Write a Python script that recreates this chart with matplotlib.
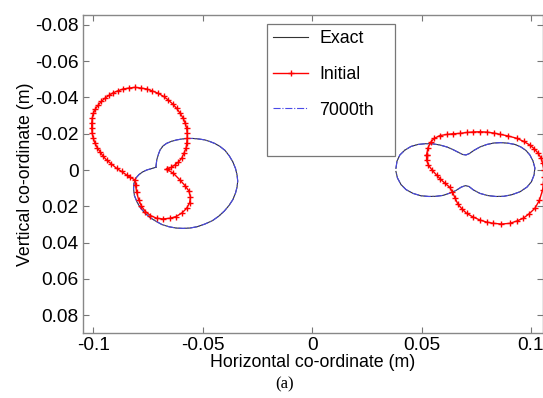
import numpy as np
import matplotlib.pyplot as plt
from matplotlib.patches import Rectangle

plt.rcParams.update({
    'font.family': 'Liberation Sans',
    'font.size': 12.8,
    'axes.unicode_minus': False
})

# exact / converged trajectory, left body
left_exact_x = [-0.0714, -0.0710, -0.0702, -0.0695, -0.0682, -0.0665, -0.0643, -0.0619, -0.0595, -0.0572,
                -0.0544, -0.0517, -0.0490, -0.0467, -0.0444, -0.0421, -0.0398, -0.0378, -0.0362, -0.0350,
                -0.0343, -0.0340, -0.0343, -0.0350, -0.0362, -0.0380, -0.0401, -0.0426, -0.0455, -0.0490,
                -0.0526, -0.0558, -0.0590, -0.0622, -0.0654, -0.0686, -0.0716, -0.0741, -0.0764, -0.0784,
                -0.0800, -0.0812, -0.0816, -0.0814, -0.0805, -0.0791, -0.0775, -0.0756, -0.0733, -0.0714]
left_exact_y = [-0.0015, -0.0055, -0.0088, -0.0110, -0.0132, -0.0147, -0.0158, -0.0166, -0.0171, -0.0174,
                -0.0174, -0.0171, -0.0166, -0.0157, -0.0146, -0.0130, -0.0108, -0.0077, -0.0044, -0.0008,
                0.0028, 0.0061, 0.0094, 0.0127, 0.0163, 0.0196, 0.0226, 0.0254, 0.0279, 0.0298,
                0.0313, 0.0320, 0.0322, 0.0320, 0.0313, 0.0301, 0.0281, 0.0262, 0.0237, 0.0210,
                0.0177, 0.0141, 0.0105, 0.0072, 0.0044, 0.0025, 0.0011, 0.0000, -0.0008, -0.0015]

# exact / converged trajectory, right body
right_exact_x = [0.0383, 0.0388, 0.0401, 0.0424, 0.0452, 0.0484, 0.0516, 0.0548, 0.0584, 0.0616,
                 0.0643, 0.0669, 0.0687, 0.0703, 0.0719, 0.0739, 0.0767, 0.0799, 0.0831, 0.0863,
                 0.0895, 0.0927, 0.0954, 0.0977, 0.0995, 0.1009, 0.1018, 0.1014, 0.1002, 0.0982,
                 0.0950, 0.0913, 0.0876, 0.0840, 0.0803, 0.0767, 0.0737, 0.0717, 0.0701, 0.0682,
                 0.0657, 0.0630, 0.0598, 0.0566, 0.0534, 0.0497, 0.0461, 0.0429, 0.0406, 0.0390, 0.0383]
right_exact_y = [-0.0009, -0.0050, -0.0083, -0.0110, -0.0130, -0.0141, -0.0145, -0.0145, -0.0138, -0.0127,
                 -0.0113, -0.0097, -0.0086, -0.0083, -0.0091, -0.0108, -0.0127, -0.0141, -0.0149, -0.0151,
                 -0.0148, -0.0141, -0.0127, -0.0108, -0.0083, -0.0050, -0.0011, 0.0028, 0.0065, 0.0094,
                 0.0120, 0.0136, 0.0145, 0.0146, 0.0141, 0.0129, 0.0110, 0.0091, 0.0086, 0.0094,
                 0.0113, 0.0127, 0.0140, 0.0145, 0.0146, 0.0142, 0.0129, 0.0108, 0.0080, 0.0044, 0.0008]

# initial guess, left body
left_init_x = [-0.0665, -0.0634, -0.0604, -0.0581, -0.0563, -0.0556, -0.0560, -0.0574, -0.0595, -0.0622,
               -0.0650, -0.0682, -0.0710, -0.0739, -0.0762, -0.0780, -0.0793, -0.0802, -0.0807, -0.0809,
               -0.0830, -0.0847, -0.0871, -0.0893, -0.0917, -0.0939, -0.0956, -0.0969, -0.0982, -0.0992,
               -0.1000, -0.1005, -0.1007, -0.1007, -0.1005, -0.1000, -0.0990, -0.0977, -0.0963, -0.0947,
               -0.0928, -0.0909, -0.0887, -0.0863, -0.0837, -0.0809, -0.0782, -0.0756, -0.0730, -0.0703,
               -0.0679, -0.0657, -0.0637, -0.0619, -0.0603, -0.0589, -0.0580, -0.0573, -0.0571, -0.0571,
               -0.0573, -0.0576, -0.0586, -0.0596, -0.0611, -0.0627, -0.0645, -0.0665]
left_init_y = [-0.0004, 0.0018, 0.0055, 0.0086, 0.0116, 0.0149, 0.0182, 0.0212, 0.0237, 0.0257,
               0.0266, 0.0270, 0.0266, 0.0251, 0.0229, 0.0199, 0.0163, 0.0121, 0.0083, 0.0055,
               0.0041, 0.0028, 0.0008, -0.0009, -0.0033, -0.0055, -0.0077, -0.0101, -0.0124, -0.0147,
               -0.0175, -0.0202, -0.0230, -0.0258, -0.0285, -0.0313, -0.0337, -0.0359, -0.0378, -0.0396,
               -0.0412, -0.0426, -0.0437, -0.0447, -0.0452, -0.0456, -0.0452, -0.0447, -0.0436, -0.0423,
               -0.0406, -0.0386, -0.0364, -0.0340, -0.0313, -0.0285, -0.0258, -0.0230, -0.0202, -0.0175,
               -0.0147, -0.0120, -0.0092, -0.0065, -0.0044, -0.0028, -0.0014, -0.0004]

# initial guess, right body
right_init_x = [0.0523, 0.0529, 0.0541, 0.0557, 0.0584, 0.0615, 0.0643, 0.0675, 0.0707, 0.0737,
                0.0767, 0.0799, 0.0829, 0.0858, 0.0895, 0.0935, 0.0966, 0.0995, 0.1016, 0.1033,
                0.1046, 0.1053, 0.1059, 0.1059, 0.1057, 0.1053, 0.1039, 0.1018, 0.0993, 0.0965,
                0.0936, 0.0904, 0.0865, 0.0828, 0.0797, 0.0767, 0.0735, 0.0706, 0.0685, 0.0666,
                0.0653, 0.0641, 0.0628, 0.0607, 0.0586, 0.0569, 0.0548, 0.0531, 0.0523, 0.0523]
right_init_y = [-0.0083, -0.0121, -0.0152, -0.0174, -0.0190, -0.0196, -0.0200, -0.0202, -0.0207, -0.0210,
                -0.0211, -0.0209, -0.0204, -0.0197, -0.0188, -0.0175, -0.0158, -0.0138, -0.0116, -0.0092,
                -0.0066, -0.0039, 0.0000, 0.0039, 0.0077, 0.0110, 0.0166, 0.0211, 0.0240, 0.0266,
                0.0281, 0.0294, 0.0298, 0.0294, 0.0287, 0.0276, 0.0259, 0.0239, 0.0215, 0.0188,
                0.0154, 0.0121, 0.0094, 0.0073, 0.0050, 0.0028, 0.0000, -0.0028, -0.0055, -0.0083]

series_labels = ['Exact', 'Initial', '7000th']
x_ticks = [-0.1, -0.05, 0, 0.05, 0.1]
x_tick_labels = ['-0.1', '-0.05', '0', '0.05', '0.1']
y_ticks = [-0.08, -0.06, -0.04, -0.02, 0, 0.02, 0.04, 0.06, 0.08]
y_tick_labels = ['-0.08', '-0.06', '-0.04', '-0.02', '0', '0.02', '0.04', '0.06', '0.08']

fig = plt.figure(figsize=(5.43, 3.98), dpi=100)
ax = fig.add_axes([83/543, 65/398, 460/543, 318/398])

h_exact, = ax.plot(left_exact_x, left_exact_y, color='#333333', lw=0.8, zorder=2)
ax.plot(right_exact_x, right_exact_y, color='#333333', lw=0.8, zorder=2)
h_init, = ax.plot(left_init_x, left_init_y, color='red', lw=1.0, marker='+', ms=4.5, mew=1, zorder=4)
ax.plot(right_init_x, right_init_y, color='red', lw=1.0, marker='+', ms=4.5, mew=1, zorder=4)
h_final, = ax.plot(left_exact_x, left_exact_y, color='#4a4ae8', lw=0.8, ls='-.', zorder=3)
ax.plot(right_exact_x, right_exact_y, color='#4a4ae8', lw=0.8, ls='-.', zorder=3)

ax.set_xlim(-0.1047, 0.1055)
ax.set_ylim(0.0899, -0.0855)
ax.set_xticks(x_ticks)
ax.set_xticklabels(x_tick_labels)
ax.set_yticks(y_ticks)
ax.set_yticklabels(y_tick_labels)
ax.tick_params(direction='in', length=4, width=0.8, color='#777777', top=True, right=True,
               pad=3, labelsize=13.8)
for s in ax.spines.values():
    s.set_color('#888888')
    s.set_linewidth(1.0)

ax.set_xlabel('Horizontal co-ordinate (m)', labelpad=0)
ax.set_ylabel('Vertical co-ordinate (m)', labelpad=1)

leg = ax.legend([h_exact, h_init, h_final], series_labels, loc='upper left',
                bbox_to_anchor=(0.4, 0.9717), borderaxespad=0, frameon=False,
                labelspacing=1.05, handlelength=1.95, borderpad=0.35,
                handletextpad=0.65)
# legend frame (taller than the entries, as in the original)
ax.add_patch(Rectangle((0.4, 0.5566), 0.278, 0.415, transform=ax.transAxes, fill=False,
                       edgecolor='#777777', lw=0.9, zorder=5))

fig.text(285/543, 1 - 384/398, '(a)', ha='center', va='center', fontsize=12,
         family='Liberation Serif')

plt.savefig('out.png', dpi=100)
